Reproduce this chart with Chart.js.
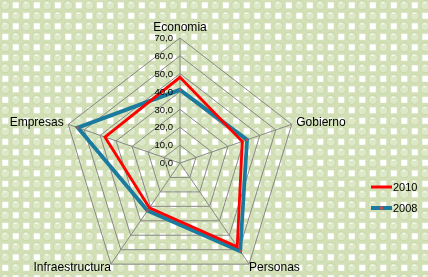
<!DOCTYPE html>
<html>
<head>
<meta charset="utf-8">
<script src="https://cdn.jsdelivr.net/npm/chart.js@4"></script>
<style>
  html, body { margin: 0; padding: 0; background: #fff; overflow: hidden; }
  #view { width: 428px; height: 277px; position: relative; overflow: hidden; }
  /* canvas is a bit larger than the view so the plot can sit off-centre and run to the bottom edge */
  #wrap { position: absolute; left: -60px; top: 0; width: 488px; height: 299px; }
</style>
</head>
<body>
<div id="view"><div id="wrap"><canvas id="radarChart"></canvas></div></div>
<script>
const categories = ['Economia', 'Gobierno', 'Personas', 'Infraestructura', 'Empresas'];
const seriesNames = ['2010', '2008'];
const values2010 = [48, 39, 58, 31, 47];
const values2008 = [41, 42, 61, 33, 64];
const tickValues = [0, 10, 20, 30, 40, 50, 60, 70];
const tickLabels = ['0,0', '10,0', '20,0', '30,0', '40,0', '50,0', '60,0', '70,0'];

const FONT = "'Liberation Sans', Arial, sans-serif";
const shiftX = 60;      // how far the canvas is pushed left of the view
const squeezeX = 0.94;  // the original pentagon is a bit narrower than it is tall

function makePattern(ctx) {
  const tile = document.createElement('canvas');
  tile.width = 21;
  tile.height = 21;
  const t = tile.getContext('2d');
  t.fillStyle = '#d3e0b7';
  t.fillRect(0, 0, 21, 21);
  [[5.25, 5.25], [15.75, 15.75]].forEach(([x, y]) => {
    t.fillStyle = '#dde8c9';
    t.strokeStyle = '#c8d8a8';
    t.lineWidth = 1;
    t.beginPath();
    t.arc(x, y, 4.6, 0, Math.PI * 2);
    t.fill();
    t.stroke();
    t.fillStyle = 'rgba(255,255,255,0.8)';
    t.fillRect(x - 2, y - 3, 3, 1.2);
  });
  t.fillStyle = '#ffffff';
  t.fillRect(12.8, 2.3, 6, 6);
  t.fillRect(2.3, 12.8, 6, 6);
  return ctx.createPattern(tile, 'repeat');
}

const excelLook = {
  id: 'excelLook',
  beforeDraw(chart) {
    const ctx = chart.ctx;
    ctx.save();
    ctx.fillStyle = makePattern(ctx);
    ctx.translate(shiftX, 0);
    ctx.fillRect(-shiftX, 0, chart.width, chart.height);
    ctx.restore();

    const s = chart.scales.r;
    ctx.save();
    ctx.translate(s.xCenter, 0);
    ctx.scale(squeezeX, 1);
    ctx.translate(-s.xCenter, 0);
  },
  afterDraw(chart) {
    const ctx = chart.ctx;
    ctx.restore();
    const s = chart.scales.r;

    // tick labels, left of the vertical axis
    ctx.save();
    ctx.font = '9.5px ' + FONT;
    ctx.fillStyle = '#000';
    ctx.textAlign = 'right';
    ctx.textBaseline = 'middle';
    tickValues.forEach((v, i) => {
      const r = s.getDistanceFromCenterForValue(v);
      ctx.fillText(tickLabels[i], s.xCenter - 7, s.yCenter - r + 0.5);
    });

    // legend
    const rows = [187, 208];
    const lx = 371 + shiftX;
    chart.data.datasets.forEach((ds, i) => {
      const y = rows[i];
      ctx.strokeStyle = ds.borderColor;
      ctx.lineWidth = ds.borderWidth;
      ctx.beginPath();
      ctx.moveTo(lx, y);
      ctx.lineTo(lx + 21, y);
      ctx.stroke();
      if (ds.pointRadius > 0) {
        ctx.fillStyle = ds.pointBackgroundColor;
        ctx.fillRect(lx + 9, y - 1.5, 3, 3);
      }
      ctx.fillStyle = '#000';
      ctx.font = '11px ' + FONT;
      ctx.textAlign = 'left';
      ctx.fillText(ds.label, lx + 22, y + 0.5);
    });
    ctx.restore();
  }
};

new Chart(document.getElementById('radarChart'), {
  type: 'radar',
  data: {
    labels: categories,
    datasets: [
      {
        label: seriesNames[0],
        data: values2010,
        borderColor: '#ff0000',
        borderWidth: 3,
        fill: false,
        pointRadius: 0,
        pointHoverRadius: 0
      },
      {
        label: seriesNames[1],
        data: values2008,
        borderColor: '#1a7b9e',
        borderWidth: 4,
        fill: false,
        pointStyle: 'rect',
        pointRadius: 1.6,
        pointBorderWidth: 0,
        pointBackgroundColor: '#c0504d'
      }
    ]
  },
  options: {
    responsive: true,
    maintainAspectRatio: false,
    animation: false,
    layout: { padding: { left: 0, right: 8, top: 7, bottom: 0 } },
    plugins: {
      legend: { display: false },
      tooltip: { enabled: false }
    },
    scales: {
      r: {
        min: 0,
        max: 70,
        ticks: { display: false, stepSize: 10 },
        grid: { color: '#858585', lineWidth: 1 },
        angleLines: { color: '#858585', lineWidth: 1 },
        pointLabels: {
          color: '#000',
          padding: c => c.index === 0 ? 1 : ((c.index === 2 || c.index === 3) ? 0 : 5),
          font: c => ({
            family: FONT,
            size: 12.8,
            lineHeight: c.index === 0 ? '20px' : (c.index === 1 || c.index === 4 ? '1px' : '6px')
          })
        }
      }
    }
  },
  plugins: [excelLook]
});
</script>
</body>
</html>
